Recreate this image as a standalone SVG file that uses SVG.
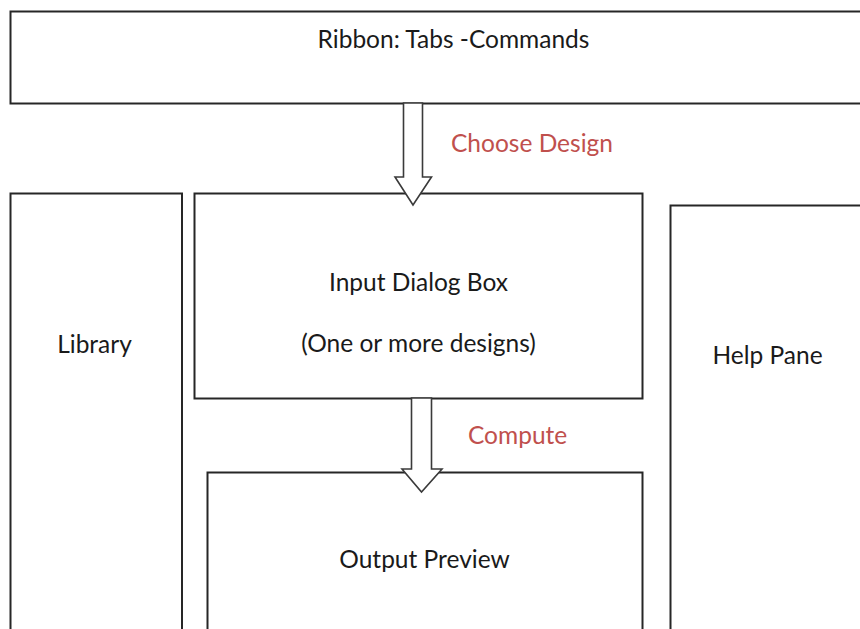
<svg xmlns="http://www.w3.org/2000/svg" width="860" height="629" viewBox="0 0 860 629">
  <style>
    .box { fill: #ffffff; stroke: #262626; stroke-width: 2; }
    .arrow { fill: #ffffff; stroke: #3a3a3a; stroke-width: 1.6; stroke-linejoin: miter; }
    .lbl { font-family: Lato, "Open Sans", "Liberation Sans", sans-serif; font-size: 24.5px; fill: #1a1a1a; text-anchor: middle; }
    .act { font-family: Lato, "Open Sans", "Liberation Sans", sans-serif; font-size: 24.5px; fill: #c0504d; }
  </style>
  <rect width="860" height="629" fill="#ffffff"/>

  <g id="ribbon">
    <rect class="box" x="10.5" y="11.5" width="860" height="92"/>
    <text class="lbl" x="453.5" y="48">Ribbon: Tabs -Commands</text>
  </g>

  <g id="library">
    <rect class="box" x="10.5" y="193.5" width="171.5" height="460"/>
    <text class="lbl" x="94.5" y="353">Library</text>
  </g>

  <g id="input-dialog">
    <rect class="box" x="194.5" y="193.5" width="448" height="205"/>
    <text class="lbl" x="418.5" y="291">Input Dialog Box</text>
    <text class="lbl" x="418.5" y="352">(One or more designs)</text>
  </g>

  <g id="output-preview">
    <rect class="box" x="207.5" y="472.5" width="435" height="200"/>
    <text class="lbl" x="424.5" y="568">Output Preview</text>
  </g>

  <g id="help-pane">
    <rect class="box" x="670.5" y="205.5" width="200" height="460"/>
    <text class="lbl" x="767.5" y="364">Help Pane</text>
  </g>

  <g id="connectors">
    <path class="arrow" d="M403.5,103 L422.5,103 L422.5,177 L431.5,177 L413,205 L395,177 L403.5,177 Z"/>
    <text class="act" x="451" y="152">Choose Design</text>
    <path class="arrow" d="M411.5,398 L431.5,398 L431.5,469 L442,469 L421.5,492 L402,469 L411.5,469 Z"/>
    <text class="act" x="468" y="444">Compute</text>
  </g>
</svg>
